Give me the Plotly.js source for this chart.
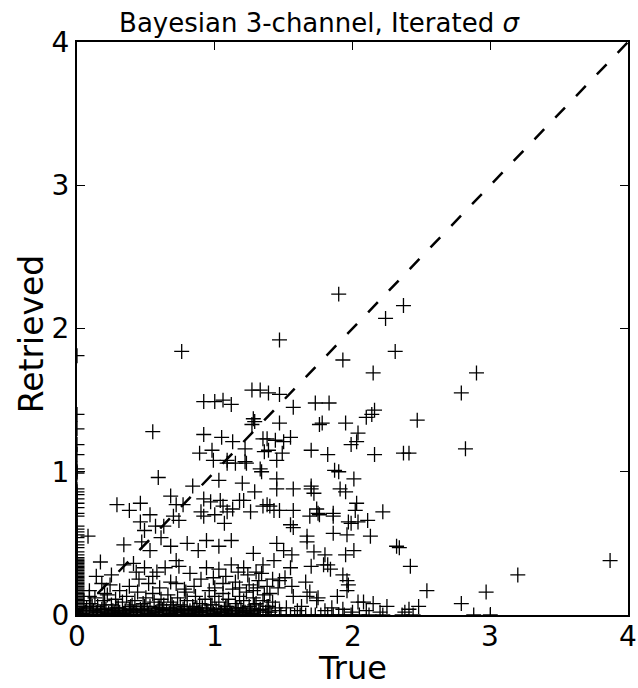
<!DOCTYPE html>
<html>
<head>
<meta charset="utf-8">
<script src="https://cdn.plot.ly/plotly-3.0.1.min.js"></script>
<style>html,body{margin:0;padding:0;background:#fff;}#chart{width:638px;height:688px;}</style>
</head>
<body>
<div id="chart"></div>
<script>
// Scattered points (True, Retrieved)
const trueMain = [0.76,1.90,2.37,2.24,1.47,2.31,1.93,2.15,2.79,2.90,2.47,2.37,2.41,2.82,2.22,2.34,2.42,2.54,2.79,3.87,3.20,2.97,2.13,2.01,2.16,1.73,1.83,2.16,2.14,2.10,1.76,1.78,1.95,2.04,2.03,1.99,1.70,1.82,1.87,1.90,1.70,1.72,1.91,1.95,2.03,2.02,1.69,1.76,1.86,1.99,2.04,2.11,1.86,1.96,1.67,1.67,1.72,1.80,1.95,2.01,1.70,1.79,1.84,1.96,1.97,1.96,1.66,1.69,1.74,1.89,2.04,2.15,2.25,2.41,2.48,2.32,
0.92,1.00,1.06,1.12,1.27,1.33,1.39,1.47,0.55,0.92,1.05,1.13,1.28,1.27,0.89,0.98,0.99,1.09,1.22,1.35,1.36,1.57,1.29,1.47,1.38,1.44,1.50,1.55,1.39,1.49,1.23,1.33,1.34,1.20,1.45,1.29,1.45,1.57,1.70,1.74,1.86,0.84,0.97,1.06,1.18,1.38,1.43,1.57,0.77,0.90,0.59,0.29,0.38,0.46,0.53,0.46,0.49,0.57,0.68,0.72,0.70,0.63,0.74,0.92,1.04,0.92,1.00,1.07,1.09,1.13,1.03,1.09,
0.08,0.34,0.47,0.53,0.61,0.68,0.80,0.88,0.94,1.03,1.12,0.17,0.34,0.41,0.43,0.49,0.58,0.64,0.72,0.74,0.68,0.72,0.82,0.94,0.99,1.06,1.12,0.14,0.18,0.24,0.31,0.38,0.09,0.09,
1.15,1.22,1.45,1.21,1.26,1.35,1.40,1.47,1.55,1.57,1.75,1.97,1.28,1.45,1.50,1.56,1.82,1.21,1.24,1.35,1.34,1.43,1.47,1.55,1.51,1.46,1.56,1.57,1.67,1.75,1.93,2.08];
const retrMain = [1.84,2.24,2.16,2.07,1.92,1.84,1.78,1.69,1.55,1.69,1.36,1.13,1.13,1.16,0.72,0.47,0.34,0.17,0.08,0.38,0.28,0.16,0.55,0.95,1.12,1.48,1.48,1.43,1.40,1.38,1.33,1.34,1.34,1.27,1.21,1.19,1.15,1.12,1.01,1.00,0.88,0.85,0.88,0.86,0.78,0.73,0.69,0.70,0.69,0.64,0.65,0.66,0.57,0.56,0.55,0.51,0.44,0.42,0.42,0.45,0.34,0.35,0.32,0.24,0.21,0.17,0.23,0.16,0.10,0.13,0.09,0.08,0.06,0.04,0.06,0.48,
1.49,1.49,1.50,1.47,1.57,1.57,1.55,1.54,1.28,1.26,1.24,1.21,1.37,1.33,1.13,1.15,1.08,1.08,1.16,1.23,1.14,1.45,1.35,1.34,1.23,1.22,1.21,1.24,1.15,1.13,1.06,1.02,1.00,0.92,0.95,0.86,0.88,0.88,0.90,0.74,0.71,0.90,0.79,0.76,0.80,0.77,0.73,0.73,0.77,0.72,0.96,0.77,0.73,0.78,0.70,0.65,0.59,0.62,0.83,0.77,0.69,0.62,0.66,0.81,0.80,0.69,0.70,0.64,0.72,0.74,0.94,1.06,
0.55,0.49,0.51,0.45,0.54,0.48,0.50,0.45,0.52,0.48,0.52,0.37,0.35,0.36,0.30,0.33,0.30,0.33,0.38,0.34,0.23,0.22,0.29,0.33,0.26,0.22,0.35,0.27,0.22,0.21,0.17,0.20,0.17,0.13,
1.06,1.07,1.08,0.80,0.72,0.76,0.76,0.73,0.63,0.61,0.71,0.65,0.43,0.50,0.45,0.42,0.35,0.33,0.28,0.35,0.29,0.38,0.24,0.33,0.26,0.19,0.20,0.13,0.13,0.12,0.28,0.09];

// Dense low band near the True axis
const trueLow = [0.05,0.07,0.10,0.12,0.13,0.15,0.17,0.19,0.21,0.22,0.25,0.27,0.28,0.30,0.33,0.35,0.36,0.39,0.41,0.42,0.44,0.46,0.48,0.50,0.51,0.53,0.55,0.56,0.58,0.60,0.61,0.63,0.65,0.66,0.68,0.70,0.71,0.73,0.75,0.77,0.79,0.80,0.82,0.84,0.86,0.88,0.89,0.91,0.93,0.95,0.96,0.98,1.00,1.01,1.03,1.05,1.06,1.08,1.10,1.11,1.13,1.15,1.16,1.18,1.20,1.21,1.23,1.25,1.26,1.28,1.30,1.31,1.33,1.35,1.36,1.38,1.40,1.42,1.44,1.47,1.52,1.60,1.63,1.80,1.85,1.93,2.00,2.10,2.20,2.38,
0.85,0.90,1.00,1.08,1.15,1.18,1.25,1.28,1.32,1.38,1.40,1.42,1.30,1.17,1.03,0.78,0.60,0.52,0.45,0.25,0.20,0.55,
0.04,0.09,0.14,0.18,0.23,0.26,0.31,0.34,0.38,0.43,0.47,0.52,0.57,0.62,0.67,0.72,0.76,0.81,0.85,0.90,0.94,0.99,1.04,1.07,1.12,1.17,1.22,1.27,1.32,1.37,0.11,0.20,0.29,0.40,0.49,0.59,0.69,0.78,0.87,0.97,1.09,1.19,1.29,1.39];
const retrLow = [0.10,0.05,0.08,0.03,0.12,0.06,0.02,0.10,0.04,0.14,0.07,0.02,0.11,0.05,0.09,0.03,0.13,0.06,0.02,0.10,0.16,0.04,0.08,0.12,0.03,0.06,0.15,0.09,0.02,0.05,0.11,0.07,0.03,0.14,0.09,0.05,0.02,0.12,0.07,0.04,0.16,0.10,0.03,0.06,0.13,0.02,0.08,0.05,0.11,0.03,0.17,0.07,0.13,0.04,0.09,0.02,0.15,0.06,0.11,0.03,0.18,0.08,0.05,0.13,0.02,0.10,0.16,0.06,0.03,0.12,0.08,0.19,0.04,0.10,0.14,0.06,0.02,0.09,0.05,0.03,0.05,0.03,0.06,0.03,0.05,0.04,0.02,0.03,0.02,0.02,
0.20,0.25,0.19,0.27,0.23,0.19,0.21,0.17,0.24,0.20,0.15,0.25,0.30,0.30,0.32,0.18,0.19,0.22,0.25,0.28,0.15,0.27,
0.01,0.03,0.02,0.04,0.01,0.03,0.02,0.01,0.04,0.02,0.03,0.01,0.02,0.04,0.01,0.03,0.02,0.01,0.04,0.02,0.03,0.01,0.02,0.04,0.01,0.03,0.02,0.01,0.03,0.02,0.06,0.07,0.05,0.07,0.06,0.05,0.07,0.06,0.05,0.07,0.06,0.05,0.07,0.06];

// Points retrieved as zero (True values)
const trueAtZeroRetr = [0.01,0.02,0.03,0.04,0.05,0.06,0.07,0.08,0.09,0.10,0.11,0.12,0.13,0.14,0.15,0.16,0.17,0.18,0.19,0.20,0.21,0.22,0.23,0.24,0.25,0.26,0.27,0.28,0.29,0.30,0.31,0.32,0.33,0.34,0.35,0.36,0.37,0.38,0.39,0.40,0.41,0.42,0.43,0.44,0.45,0.46,0.47,0.48,0.49,0.50,0.51,0.52,0.53,0.54,0.55,0.56,0.57,0.58,0.59,0.60,0.61,0.62,0.63,0.64,0.65,0.66,0.67,0.68,0.69,0.70,0.71,0.72,0.73,0.74,0.75,0.76,0.77,0.78,0.79,0.80,0.81,0.82,0.83,0.84,0.85,0.86,0.87,0.88,0.89,0.90,0.91,0.92,0.93,0.94,0.95,0.96,0.97,0.98,0.99,1.00,1.01,1.02,1.03,1.04,1.05,1.06,1.07,1.08,1.09,1.10,1.11,1.12,1.13,1.14,1.15,1.16,1.17,1.18,1.19,1.20,1.21,1.22,1.23,1.24,1.25,1.26,1.27,1.28,1.29,1.30,1.31,1.32,1.33,1.35,1.38,1.41,1.44,1.48,1.52,1.55,1.58,1.62,1.66,1.70,1.73,1.77,1.82,1.86,1.90,1.94,1.99,2.05,2.12,2.22,2.36,2.44,2.88,3.00];
// Points with zero true value (Retrieved values)
const retrAtZeroTrue = [1.81,1.40,1.30,1.19,1.12,1.02,1.00,0.99,0.88,0.86,0.84,0.81,0.78,0.75,0.71,0.69,0.62,0.60,0.58,0.56,0.54,0.51,0.49,0.47,0.44,0.42,0.40,0.39,0.38,0.37,0.36,0.35,0.34,0.33,0.32,0.31,0.30,0.29,0.28,0.27,0.26,0.25,0.24,0.23,0.22,0.21,0.20,0.19,0.18,0.17,0.16,0.15,0.14,0.13,0.12,0.11,0.10,0.09,0.08,0.07,0.06,0.05,0.04,0.03,0.02,0.01];

const oneToOne = [0, 4];
const tickVals = [0, 1, 2, 3, 4];
const tickText = ['0', '1', '2', '3', '4'];
const xTitle = 'True';
const yTitle = 'Retrieved';

const xs = [].concat(trueMain, trueLow, trueAtZeroRetr, retrAtZeroTrue.map(() => 0));
const ys = [].concat(retrMain, retrLow, trueAtZeroRetr.map(() => 0), retrAtZeroTrue);

const font = 'DejaVu Sans, sans-serif';
const traces = [
  {x: xs, y: ys, mode: 'markers', type: 'scatter', cliponaxis: true,
   marker: {symbol: 'cross-thin-open', size: 10.7, color: '#000', line: {color: '#000', width: 1.3}}},
  {x: oneToOne, y: oneToOne, mode: 'lines', type: 'scatter', hoverinfo: 'skip',
   line: {color: '#000', width: 2.5, dash: '14px,16px'}}
];
const axisBase = {
  range: [0, 4], tickvals: tickVals, ticktext: tickText,
  ticks: 'inside', ticklen: 8, tickwidth: 1.3, tickcolor: '#000',
  showline: true, linecolor: '#000', linewidth: 2, mirror: 'ticks',
  showgrid: false, zeroline: false, fixedrange: true,
  tickfont: {family: font, size: 28, color: '#000'}
};
// x tick labels placed on the x scale at a fixed distance below the axis
const xTickLabels = tickVals.map((v, i) => ({
  text: tickText[i], xref: 'x', yref: 'paper', x: v, y: (615 - 636) / 573,
  xanchor: 'center', yanchor: 'middle', showarrow: false,
  font: {family: font, size: 28, color: '#000'}
}));
const layout = {
  width: 638, height: 688,
  margin: {l: 77, r: 10, t: 42, b: 73, pad: 0},
  paper_bgcolor: '#fff', plot_bgcolor: '#fff',
  showlegend: false,
  title: {text: 'Bayesian 3-channel, Iterated <i>σ</i>', font: {family: font, size: 26, color: '#000'},
          x: 0.5, xref: 'container', xanchor: 'center', y: 1 - 23/688, yref: 'container', yanchor: 'middle'},
  xaxis: Object.assign({}, axisBase, {showticklabels: false}),
  yaxis: Object.assign({}, axisBase),
  annotations: xTickLabels.concat([
    {text: xTitle, xref: 'paper', yref: 'paper', x: 0.5, y: (615 - 668) / 573, xanchor: 'center', yanchor: 'middle',
     showarrow: false, font: {family: font, size: 32, color: '#000'}},
    {text: yTitle, xref: 'paper', yref: 'paper', x: (31 - 77) / 551, y: 0.49, xanchor: 'center', yanchor: 'middle',
     textangle: -90, showarrow: false, font: {family: font, size: 33, color: '#000'}}
  ])
};
Plotly.newPlot('chart', traces, layout, {displayModeBar: false, staticPlot: true});
</script>
</body>
</html>
